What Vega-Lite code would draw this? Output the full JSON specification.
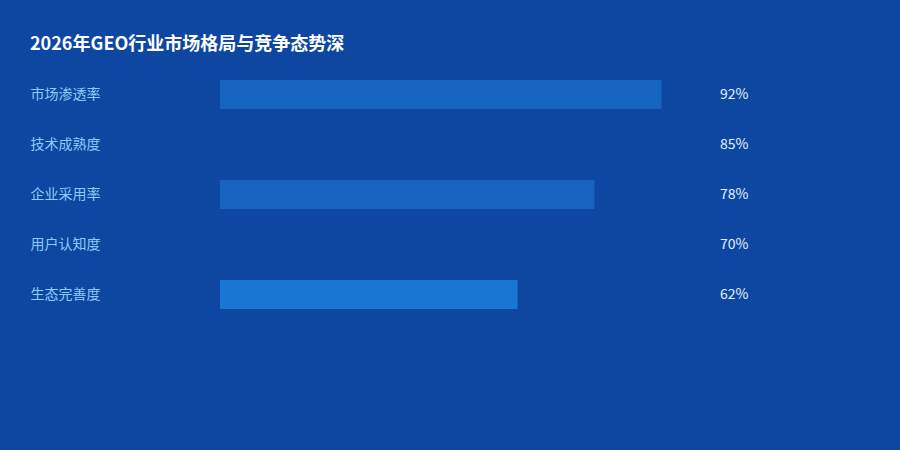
{
  "$schema": "https://vega.github.io/schema/vega-lite/v6.json",
  "autosize": "none",
  "width": 480,
  "height": 250,
  "padding": {"left": 220, "top": 69.5, "right": 200, "bottom": 130.5},
  "background": "#0d47a1",
  "config": {
    "view": {"stroke": null},
    "font": "Noto Sans CJK SC"
  },
  "title": {
    "text": "2026年GEO行业市场格局与竞争态势深",
    "anchor": "start",
    "offset": 16,
    "fontSize": 18,
    "fontWeight": "bold",
    "color": "#ffffff",
    "font": "Noto Sans CJK SC"
  },
  "data": {
    "values": [
      {"metric": "市场渗透率", "value": 92},
      {"metric": "技术成熟度", "value": 85},
      {"metric": "企业采用率", "value": 78},
      {"metric": "用户认知度", "value": 70},
      {"metric": "生态完善度", "value": 62}
    ]
  },
  "encoding": {
    "y": {
      "field": "metric",
      "type": "nominal",
      "sort": null,
      "title": null,
      "scale": {"paddingInner": 0.42, "paddingOuter": 0.21},
      "axis": {
        "domain": false,
        "ticks": false,
        "labelAlign": "left",
        "labelPadding": 190,
        "labelColor": "#90caf9",
        "labelFontSize": 14,
        "labelFont": "Noto Sans CJK SC"
      }
    }
  },
  "layer": [
    {
      "mark": {"type": "bar"},
      "encoding": {
        "x": {
          "field": "value",
          "type": "quantitative",
          "scale": {"domain": [0, 100]},
          "axis": null
        },
        "color": {
          "field": "metric",
          "type": "nominal",
          "sort": null,
          "legend": null,
          "scale": {"range": ["#1565c0", "#0d47a1", "#1565c0", "#0d47a1", "#1976d2"]}
        }
      }
    },
    {
      "transform": [{"calculate": "datum.value + '%'", "as": "label"}],
      "mark": {"type": "text", "align": "left", "dx": 20, "fontSize": 14, "color": "#e3f2fd", "font": "Noto Sans CJK SC"},
      "encoding": {
        "x": {"datum": 100, "type": "quantitative"},
        "text": {"field": "label", "type": "nominal"}
      }
    }
  ]
}
